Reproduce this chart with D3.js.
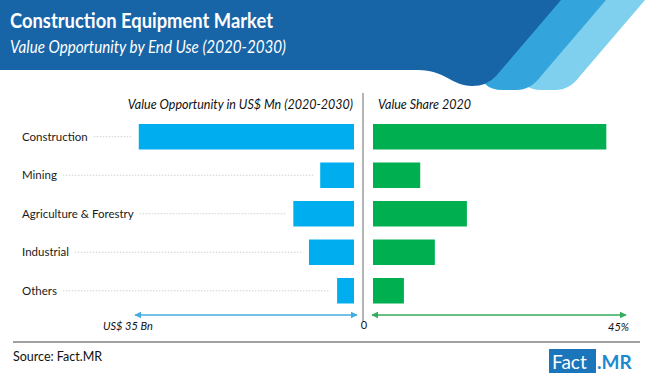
<!DOCTYPE html>
<html><head><meta charset="utf-8">
<script src="https://cdn.jsdelivr.net/npm/d3@7"></script>
<style>html,body{margin:0;padding:0;background:#fff;}svg{display:block;font-family:Lato,"Open Sans",sans-serif;}</style>
</head><body>
<svg id="c" width="650" height="378"></svg>
<script>
const categories = ["Construction","Mining","Agriculture & Forestry","Industrial","Others"];
const opportunityBn = [34.4, 5.4, 9.7, 7.2, 2.7];
const share2020 = [41.5, 8.4, 16.7, 11.0, 5.5];
const leftAxisMax = 35, rightAxisMax = 45;
const leftAxisLabel = "US$ 35 Bn", zeroLabel = "0", rightAxisLabel = "45%";
const title = "Construction Equipment Market";
const subtitle = "Value Opportunity by End Use (2020-2030)";
const leftHeader = "Value Opportunity in US$ Mn (2020-2030)";
const rightHeader = "Value Share 2020";
const source = "Source: Fact.MR";

const svg = d3.select("#c");

// header shapes
svg.append("path").attr("fill","#7fd0ee")
  .attr("d","M600,0 H645 L580,76 Q570,90 555,90 H542 Q530,90 524,84 Z");
svg.append("path").attr("fill","#33a5dc")
  .attr("d","M556,0 H606 L541,76 Q531,90 516,90 H503 Q491,90 485,84 Z");
svg.append("path").attr("fill","#1764a6")
  .attr("d","M0,0 H561 L496,76 Q487,86 472,86 C452,86 445,70 418,70 H0 Z");

function fit(sel, w){ const n=sel.node(); if(n.getComputedTextLength()>w){ sel.attr("textLength",w).attr("lengthAdjust","spacingAndGlyphs"); } return sel; }

fit(svg.append("text").attr("x",10).attr("y",28).attr("fill","#fff").attr("font-weight","bold").attr("font-size",21).text(title),263);
fit(svg.append("text").attr("x",10).attr("y",53).attr("fill","#fff").attr("font-style","italic").attr("font-size",17).text(subtitle),276);

const y = d3.scaleBand().domain(categories).range([124,303.5]).paddingInner(0.338).paddingOuter(0);
const xL = d3.scaleLinear().domain([0,leftAxisMax]).range([354,135]);
const xR = d3.scaleLinear().domain([0,rightAxisMax]).range([373,626]);

// panel headers
fit(svg.append("text").attr("x",353).attr("y",109).attr("text-anchor","end").attr("font-style","italic").attr("font-size",12.5).attr("fill","#111").text(leftHeader),236);
svg.append("text").attr("x",378).attr("y",109).attr("font-style","italic").attr("font-size",12.5).attr("fill","#111").text(rightHeader);

// divider
svg.append("line").attr("x1",363).attr("x2",363).attr("y1",93).attr("y2",321).attr("stroke","#b5b5b5").attr("stroke-width",2);

// category labels + leaders
categories.forEach((c,i)=>{
  const cy = y(c)+y.bandwidth()/2;
  const t = svg.append("text").attr("x",22).attr("y",cy+4).attr("font-size",11.5).attr("fill","#1a1a1a").text(c);
  const w = t.node().getComputedTextLength();
  svg.append("line").attr("x1",22+w+6).attr("x2",xL(opportunityBn[i])-7).attr("y1",cy).attr("y2",cy)
    .attr("stroke","#c4c4c4").attr("stroke-width",0.8).attr("stroke-dasharray","1.5,1.5");
});

// bars
svg.selectAll("rect.l").data(opportunityBn).join("rect").attr("class","l")
  .attr("x",d=>xL(d)).attr("width",d=>xL(0)-xL(d))
  .attr("y",(d,i)=>y(categories[i])).attr("height",y.bandwidth()).attr("fill","#00aeef");
svg.selectAll("rect.r").data(share2020).join("rect").attr("class","r")
  .attr("x",xR(0)).attr("width",d=>xR(d)-xR(0))
  .attr("y",(d,i)=>y(categories[i])).attr("height",y.bandwidth()).attr("fill","#00b050");

// arrows
const defs = svg.append("defs");
function mk(id,col){
  defs.append("marker").attr("id",id).attr("viewBox","0 0 10 10").attr("refX",9).attr("refY",5)
   .attr("markerWidth",7).attr("markerHeight",7).attr("markerUnits","userSpaceOnUse").attr("orient","auto-start-reverse")
   .append("path").attr("d","M0,0 L10,5 L0,10 Z").attr("fill",col);
}
mk("ab","#45ade0"); mk("ag","#35ad5c");
const ay = 315;
svg.append("line").attr("x1",xL(leftAxisMax)).attr("x2",xL(0)+3).attr("y1",ay).attr("y2",ay)
  .attr("stroke","#45ade0").attr("stroke-width",1.3).attr("marker-start","url(#ab)").attr("marker-end","url(#ab)");
svg.append("line").attr("x1",xR(0)-1).attr("x2",xR(rightAxisMax)).attr("y1",ay).attr("y2",ay)
  .attr("stroke","#35ad5c").attr("stroke-width",1.3).attr("marker-start","url(#ag)").attr("marker-end","url(#ag)");

svg.append("text").attr("x",103).attr("y",330).attr("font-style","italic").attr("font-size",11).attr("fill","#111").text(leftAxisLabel);
svg.append("text").attr("x",364).attr("y",329).attr("text-anchor","middle").attr("font-size",11).attr("fill","#111").text(zeroLabel);
svg.append("text").attr("x",629).attr("y",331).attr("text-anchor","end").attr("font-style","italic").attr("font-size",11).attr("fill","#111").text(rightAxisLabel);

// footer
svg.append("line").attr("x1",13).attr("x2",640).attr("y1",342).attr("y2",342).attr("stroke","#444").attr("stroke-width",1.2);
svg.append("text").attr("x",13).attr("y",361).attr("font-size",12.5).attr("fill","#111").text(source);
svg.append("rect").attr("x",549).attr("y",349).attr("width",47).attr("height",24).attr("fill","#1a75bb");
svg.append("text").attr("x",552).attr("y",369).attr("font-size",19).attr("fill","#fff").text("Fact");
svg.append("text").attr("x",597).attr("y",369).attr("font-size",19).attr("font-weight","bold").attr("fill","#1c8ad0").text(".MR");
</script>
</body></html>
